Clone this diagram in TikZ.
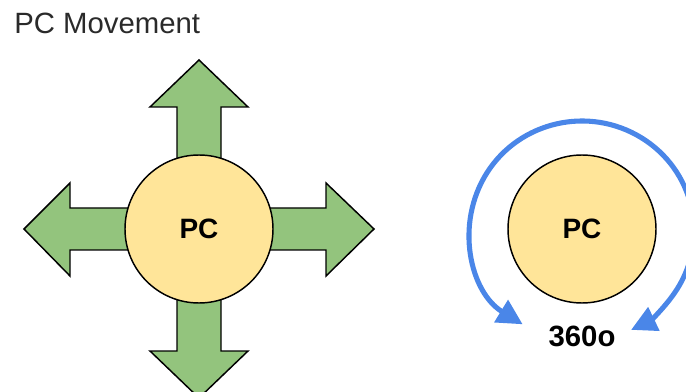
\documentclass[tikz,border=0pt]{standalone}
\usepackage{fontspec}
\setmainfont{Liberation Sans}
\usetikzlibrary{arrows.meta}
\definecolor{arrowgreen}{HTML}{93C47D}
\definecolor{pcyellow}{HTML}{FFE599}
\definecolor{turnblue}{HTML}{4A86E8}
\definecolor{titlegray}{HTML}{2A2A2A}
\tikzset{
  movearrow/.style={draw=black, fill=arrowgreen, line width=1.1pt, line join=miter},
  pcnode/.style={circle, draw=black, fill=pcyellow, line width=1.1pt,
    minimum size=111pt, inner sep=0pt, font=\fontsize{21}{24}\selectfont\bfseries},
  turnarc/.style={draw=turnblue, line width=3.8pt,
    {Triangle[length=19pt,width=19pt]}-{Triangle[length=19pt,width=19pt]}},
}
\begin{document}
\begin{tikzpicture}[x=0.75pt, y=-0.75pt]
  \useasboundingbox (0,0) rectangle (686,392);

  % title
  \node[anchor=base west, inner sep=0pt, text=titlegray,
        font=\fontsize{22}{26}\selectfont] (title) at (14,34) {PC Movement};

  % four movement arrows around the left PC
  \draw[movearrow] (177,229) -- (177,107) -- (150,107) -- (199,60) -- (248,107) -- (221,107) -- (221,229) -- cycle;
  \draw[movearrow] (177,229) -- (177,351) -- (150,351) -- (199,398) -- (248,351) -- (221,351) -- (221,229) -- cycle;
  \draw[movearrow] (199,208) -- (70,208) -- (70,183) -- (24,229) -- (70,276) -- (70,250) -- (199,250) -- cycle;
  \draw[movearrow] (199,208) -- (326,208) -- (326,183) -- (374,229) -- (326,276) -- (326,250) -- (199,250) -- cycle;

  \node[pcnode] (pcmove) at (199,229) {PC};

  % rotating PC (y axis points down, so angles run clockwise on the page)
  \node[pcnode] (pcturn) at (582,229) {PC};
  \coordinate (turncentre) at (582,231);
  \draw[turnarc] (turncentre) ++(122:112 and 110)
    arc[start angle=122, end angle=424, x radius=112, y radius=110];

  \node[font=\fontsize{22}{26}\selectfont\bfseries, inner sep=0pt, anchor=base] (deg) at (582,346) {360o};
\end{tikzpicture}
\end{document}
